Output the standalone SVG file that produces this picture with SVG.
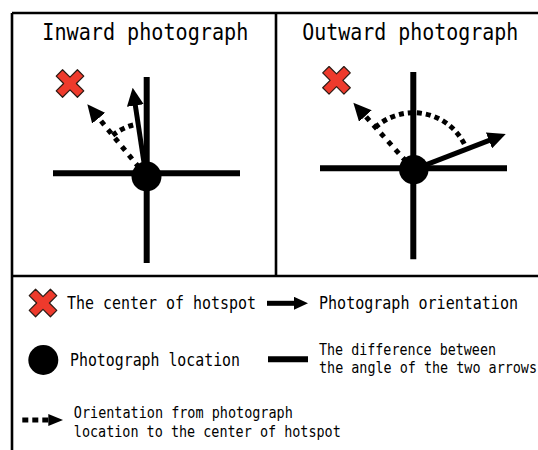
<svg xmlns="http://www.w3.org/2000/svg" width="538" height="450" viewBox="0 0 538 450">
<style>
.frame{stroke:#000;stroke-width:2.6;fill:none}
.axis{stroke:#000;stroke-width:6;fill:none}
.solid{stroke:#000;stroke-width:5;fill:none}
.dot{stroke:#000;stroke-width:5;fill:none;stroke-dasharray:5 6}
.arc{stroke:#000;stroke-width:5;fill:none;stroke-dasharray:5 4}
.xmark{fill:#ee3a2c;stroke:#2a1a14;stroke-width:1.2;stroke-linejoin:round}
.title{font-family:"DejaVu Sans Mono","Liberation Mono",monospace;font-size:23px;fill:#000}
.lg{font-family:"DejaVu Sans Mono","Liberation Mono",monospace;font-size:18.5px;fill:#000}
.lg2{font-family:"DejaVu Sans Mono","Liberation Mono",monospace;font-size:16.5px;fill:#000}
</style>
<defs>
<marker id="ah" markerUnits="userSpaceOnUse" markerWidth="18" markerHeight="17" viewBox="0 0 18 17" refX="1" refY="8.5" orient="auto"><path d="M0,0 L18,8.5 L0,17 Z" fill="#000"/></marker>
<marker id="ahs" markerUnits="userSpaceOnUse" markerWidth="14" markerHeight="13" viewBox="0 0 14 13" refX="1" refY="6.5" orient="auto"><path d="M0,0 L14,6.5 L0,13 Z" fill="#000"/></marker>
<marker id="ahd" markerUnits="userSpaceOnUse" markerWidth="15" markerHeight="12" viewBox="0 0 15 12" refX="0" refY="6" orient="auto"><path d="M0,0 L15,6 L0,12 Z" fill="#000"/></marker>
<path id="xs" d="M-4.5,-15 H4.5 V-4.5 H15 V4.5 H4.5 V15 H-4.5 V4.5 H-15 V-4.5 H-4.5 Z"/>
</defs>

<g id="frame">
<line class="frame" x1="12" y1="13" x2="538" y2="13"/>
<line class="frame" x1="12" y1="13" x2="12" y2="450"/>
<line class="frame" x1="276" y1="13" x2="276" y2="276"/>
<line class="frame" x1="12" y1="276" x2="538" y2="276"/>
</g>

<g id="inward">
<text class="title" x="42.3" y="39.5" textLength="206" lengthAdjust="spacingAndGlyphs">Inward photograph</text>
<line class="axis" x1="53" y1="173.3" x2="240" y2="173.3"/>
<line class="axis" x1="146.7" y1="77" x2="146.7" y2="263"/>
<use href="#xs" class="xmark" transform="translate(70,83.5) rotate(45)"/>
</g>

<g id="outward">
<text class="title" x="302.3" y="40" textLength="216" lengthAdjust="spacingAndGlyphs">Outward photograph</text>
<line class="axis" x1="320" y1="168.3" x2="507" y2="168.3"/>
<line class="axis" x1="413.3" y1="72" x2="413.3" y2="259.3"/>
<use href="#xs" class="xmark" transform="translate(336.5,80.3) rotate(45)"/>
</g>

<g id="connectors">
<path class="arc" d="M112.7,135.3 A52.6,52.6 0 0 1 138.2,124"/>
<line class="dot" x1="146" y1="176" x2="98.1" y2="117.4" marker-end="url(#ah)"/>
<line class="solid" x1="146" y1="176" x2="135.2" y2="104.5" marker-end="url(#ah)"/>
<path class="arc" d="M375.4,127.3 A57,57 0 0 1 466.6,149.1"/>
<line class="dot" x1="413.5" y1="169.7" x2="364.7" y2="115.3" marker-end="url(#ah)"/>
<line class="solid" x1="413.5" y1="169.7" x2="489.9" y2="140.1" marker-end="url(#ah)"/>
</g>

<g id="inward-location"><circle cx="146.5" cy="176.5" r="15" fill="#000"/></g>
<g id="outward-location"><circle cx="413.8" cy="169.7" r="14.7" fill="#000"/></g>

<g id="legend-hotspot">
<use href="#xs" class="xmark" transform="translate(43,303) rotate(45)"/>
<text class="lg" x="66.9" y="309" textLength="189" lengthAdjust="spacingAndGlyphs">The center of hotspot</text>
</g>
<g id="legend-orientation">
<line class="solid" x1="267" y1="303.3" x2="295" y2="303.3" marker-end="url(#ahs)"/>
<text class="lg" x="319" y="309" textLength="199" lengthAdjust="spacingAndGlyphs">Photograph orientation</text>
</g>
<g id="legend-location">
<circle cx="43.3" cy="360" r="15" fill="#000"/>
<text class="lg" x="70" y="366" textLength="170" lengthAdjust="spacingAndGlyphs">Photograph location</text>
</g>
<g id="legend-difference">
<line x1="268" y1="359.3" x2="308" y2="359.3" stroke="#000" stroke-width="6"/>
<text class="lg2" x="319" y="355" textLength="177" lengthAdjust="spacingAndGlyphs">The difference between</text>
<text class="lg2" x="319" y="373" textLength="218" lengthAdjust="spacingAndGlyphs">the angle of the two arrows</text>
</g>
<g id="legend-direction">
<line x1="22.3" y1="420" x2="48.3" y2="420" stroke="#000" stroke-width="5" stroke-dasharray="6 4" marker-end="url(#ahd)"/>
<text class="lg2" x="73.8" y="418" textLength="219" lengthAdjust="spacingAndGlyphs">Orientation from photograph</text>
<text class="lg2" x="73.8" y="437" textLength="267" lengthAdjust="spacingAndGlyphs">location to the center of hotspot</text>
</g>
</svg>
